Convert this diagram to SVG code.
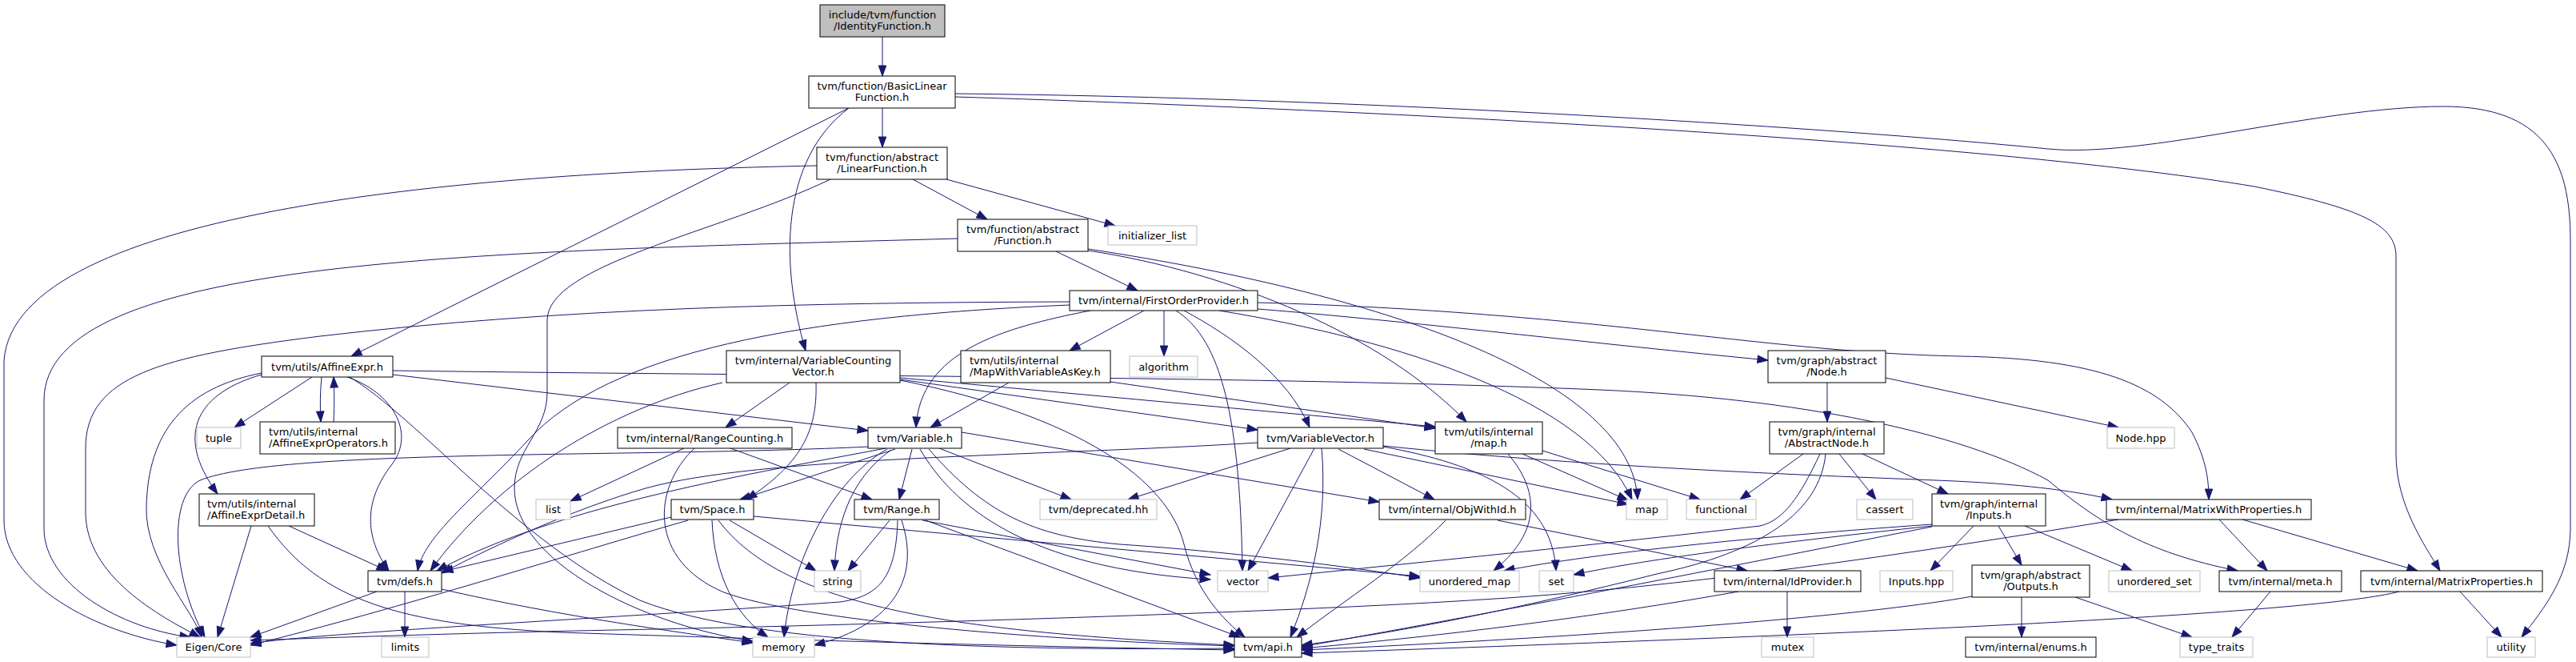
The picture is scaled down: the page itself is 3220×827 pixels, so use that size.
<svg xmlns="http://www.w3.org/2000/svg" width="3220" height="827" viewBox="0 0 3220 827">
<style>
.n rect{fill:#fff;stroke:#000;stroke-width:1}
.g rect{fill:#fff;stroke:#bfbfbf;stroke-width:1}
.r rect{fill:#bfbfbf;stroke:#000;stroke-width:1}
text{font-family:"DejaVu Sans",sans-serif;font-size:13px;fill:#000}
.c{text-anchor:middle}
#edges path{fill:none;stroke:#191970;stroke-width:1;marker-end:url(#a)}
</style>
<defs>
<marker id="a" markerWidth="14" markerHeight="10" refX="13" refY="4.7" orient="auto" markerUnits="userSpaceOnUse" overflow="visible"><path d="M0,0 L13,4.7 L0,9.4 z" fill="#191970" stroke="#191970" stroke-width="1"/></marker>
</defs>
<rect width="3220" height="827" fill="#fff"/>
<g id="edges">
<path d="M1103,46 L1103,95"/>
<path d="M1103,135 L1103,184"/>
<path d="M1061,135 L439,445"/>
<path d="M1061,135 C975,200 975,330 1007,438"/>
<path d="M1194,117 C1700,122 2300,160 2560,186 C2680,198 2900,133 3054,133 C3180,133 3213,200 3213,300 L3213,660 C3213,720 3180,760 3152,796"/>
<path d="M1194,121 C1800,140 2500,180 2818,233 C2950,260 2995,280 2995,320 L2995,567 C2995,630 3030,680 3050,713"/>
<path d="M1141,224 L1234,274"/>
<path d="M1183,224 L1394,282"/>
<path d="M1021,207 C600,215 20,260 5,450 L5,650 C5,730 120,790 221,806"/>
<path d="M1038,224 C900,290 684,330 684,400 L684,490 C684,540 643,560 643,610 C643,700 800,780 941,801"/>
<path d="M1320,314 L1422,363"/>
<path d="M1197,298 C600,315 55,320 55,500 L55,660 C55,730 150,785 238,796"/>
<path d="M1360,313 C1540,340 1730,420 1833,527"/>
<path d="M1360,311 C1750,370 2040,480 2047,624"/>
<path d="M1337,377 C1000,378 700,385 400,420 C200,445 107,470 107,560 L107,640 C107,720 200,770 250,796"/>
<path d="M1337,381 C1000,395 760,440 660,550 C590,625 530,670 522,713"/>
<path d="M1363,388 C1250,410 1150,440 1145,534"/>
<path d="M1430,388 L1337,438"/>
<path d="M1455,388 L1455,445"/>
<path d="M1470,388 C1520,420 1550,500 1553,713"/>
<path d="M1480,388 C1540,420 1610,470 1637,534"/>
<path d="M1572,386 C1750,400 2000,430 2210,450"/>
<path d="M1524,388 C1750,425 1985,500 2040,624"/>
<path d="M1572,378 C2000,390 2200,440 2450,445 C2620,448 2700,480 2740,540 C2758,575 2761,600 2761,624"/>
<path d="M491,463 C1000,470 1600,470 2000,487 C2250,498 2450,540 2560,600 C2620,650 2680,690 2797,713"/>
<path d="M491,468 L1085,538"/>
<path d="M390,471 L293,534"/>
<path d="M402,471 C400,490 400,510 401,527"/>
<path d="M417,527 C418,505 418,490 417,471"/>
<path d="M327,468 C250,490 215,540 272,617"/>
<path d="M327,466 C230,485 185,540 183,633 C181,700 240,760 252,796"/>
<path d="M434,471 C490,490 520,540 490,580 C455,625 455,670 486,713"/>
<path d="M437,471 C520,520 650,680 800,750 C950,810 1300,812 1543,810"/>
<path d="M361,657 L484,713"/>
<path d="M314,657 L272,796"/>
<path d="M335,657 C400,750 500,780 700,790 C1000,800 1300,808 1543,812"/>
<path d="M471,739 L313,796"/>
<path d="M506,739 L506,796"/>
<path d="M552,736 C700,770 850,790 941,803"/>
<path d="M987,478 L907,534"/>
<path d="M1020,478 C1022,540 1000,580 933,624"/>
<path d="M903,478 C760,510 620,600 538,713"/>
<path d="M1125,474 L1572,537"/>
<path d="M1125,472 L1794,533"/>
<path d="M1125,475 C1350,520 1460,600 1480,680 C1495,740 1530,775 1556,796"/>
<path d="M1261,478 L1163,534"/>
<path d="M1388,477 L1794,535"/>
<path d="M855,560 L713,626"/>
<path d="M868,560 C815,610 810,700 905,740 C1000,775 1300,800 1543,807"/>
<path d="M913,560 L1090,624"/>
<path d="M1086,558 C800,572 350,560 250,600 C210,620 215,720 256,796"/>
<path d="M1107,560 C950,590 700,630 546,713"/>
<path d="M1119,561 L925,624"/>
<path d="M1109,561 C1040,600 990,700 980,796"/>
<path d="M1114,562 C1060,600 1045,660 1043,713"/>
<path d="M1140,561 L1124,624"/>
<path d="M1174,560 L1339,624"/>
<path d="M1150,561 C1190,630 1280,710 1513,724"/>
<path d="M1202,540 L1724,627"/>
<path d="M1161,561 C1230,640 1290,670 1400,680 C1550,690 1700,710 1775,722"/>
<path d="M1122,650 C1120,720 1100,745 1050,752 C800,770 400,790 313,804"/>
<path d="M1127,650 C1150,720 1120,780 1018,806"/>
<path d="M1112,650 L1060,713"/>
<path d="M1153,650 L1513,718"/>
<path d="M1157,650 L1550,796"/>
<path d="M839,646 L553,714"/>
<path d="M860,650 C720,690 500,760 313,806"/>
<path d="M890,650 C893,720 920,770 960,796"/>
<path d="M898,650 C980,760 1200,790 1543,806"/>
<path d="M912,650 L1020,713"/>
<path d="M942,645 L1775,720"/>
<path d="M1613,560 L1410,624"/>
<path d="M1643,560 L1560,713"/>
<path d="M1652,560 C1660,650 1640,730 1613,796"/>
<path d="M1673,561 L1793,624"/>
<path d="M1705,561 L2035,630"/>
<path d="M1729,558 C1850,580 1940,620 1945,713"/>
<path d="M1729,557 C2000,585 2300,595 2420,600 C2500,603 2580,610 2640,624"/>
<path d="M1572,553 C1300,570 950,570 807,610 C720,635 620,680 552,716"/>
<path d="M1885,567 C1930,620 1920,670 1867,713"/>
<path d="M1903,567 L2035,625"/>
<path d="M1928,563 L2125,624"/>
<path d="M1807,650 C1760,700 1680,750 1621,796"/>
<path d="M1872,650 L2184,713"/>
<path d="M2284,478 L2284,527"/>
<path d="M2357,472 L2648,534"/>
<path d="M2254,567 L2175,624"/>
<path d="M2299,567 L2345,624"/>
<path d="M2328,567 L2435,617"/>
<path d="M2275,567 C2250,620 2230,650 2200,657 C2000,680 1800,700 1585,722"/>
<path d="M2282,567 C2275,640 2200,690 2071,717 C1900,760 1750,790 1627,806"/>
<path d="M2467,657 L2413,713"/>
<path d="M2498,657 L2527,706"/>
<path d="M2531,657 L2665,713"/>
<path d="M2415,655 C2200,670 2000,690 1880,713"/>
<path d="M2415,657 C2200,680 2050,700 1967,718"/>
<path d="M2415,658 C2200,700 1900,760 1627,808"/>
<path d="M2527,746 L2527,796"/>
<path d="M2594,746 L2740,796"/>
<path d="M2465,745 C2300,775 1900,800 1627,812"/>
<path d="M2803,649 L3022,713"/>
<path d="M2774,649 L2834,713"/>
<path d="M2648,649 C2400,690 2100,735 1837,750 C1600,765 1100,780 820,786 C600,790 400,797 313,800"/>
<path d="M2838,739 L2790,796"/>
<path d="M3075,739 L3127,796"/>
<path d="M2999,739 C2900,765 2400,790 1627,816"/>
<path d="M2234,739 L2234,796"/>
<path d="M2173,739 C2000,770 1800,795 1627,810"/>
</g>
<g id="n1" class="r"><rect x="1025" y="6" width="156" height="40"/><text class="c" x="1103" y="22.5">include/tvm/function</text><text class="c" x="1103" y="37">/IdentityFunction.h</text></g>
<g id="n2" class="n"><rect x="1011" y="95" width="183" height="40"/><text class="c" x="1102.5" y="111.5">tvm/function/BasicLinear</text><text class="c" x="1102.5" y="126">Function.h</text></g>
<g id="n3" class="n"><rect x="1021" y="184" width="163" height="40"/><text class="c" x="1102.5" y="200.5">tvm/function/abstract</text><text class="c" x="1102.5" y="215">/LinearFunction.h</text></g>
<g id="n4" class="n"><rect x="1197" y="274" width="163" height="40"/><text class="c" x="1278.5" y="290.5">tvm/function/abstract</text><text class="c" x="1278.5" y="305">/Function.h</text></g>
<g id="n5" class="g"><rect x="1385" y="282" width="111" height="24"/><text class="c" x="1440.5" y="298.5">initializer_list</text></g>
<g id="n6" class="n"><rect x="1337" y="363" width="235" height="25"/><text class="c" x="1454.5" y="380">tvm/internal/FirstOrderProvider.h</text></g>
<g id="n7" class="n"><rect x="327" y="445" width="164" height="26"/><text class="c" x="409" y="462.5">tvm/utils/AffineExpr.h</text></g>
<g id="n8" class="n"><rect x="908" y="438" width="217" height="40"/><text class="c" x="1016.5" y="454.5">tvm/internal/VariableCounting</text><text class="c" x="1016.5" y="469">Vector.h</text></g>
<g id="n9" class="n"><rect x="1201" y="438" width="187" height="40"/><text x="1212" y="454.5">tvm/utils/internal</text><text x="1212" y="469">/MapWithVariableAsKey.h</text></g>
<g id="n10" class="g"><rect x="1412" y="445" width="85" height="26"/><text class="c" x="1454.5" y="462.5">algorithm</text></g>
<g id="n11" class="n"><rect x="1794" y="527" width="134" height="40"/><text class="c" x="1861" y="543.5">tvm/utils/internal</text><text class="c" x="1861" y="558">/map.h</text></g>
<g id="n12" class="n"><rect x="2210" y="438" width="147" height="40"/><text class="c" x="2283.5" y="454.5">tvm/graph/abstract</text><text class="c" x="2283.5" y="469">/Node.h</text></g>
<g id="n13" class="g"><rect x="2634" y="534" width="84" height="26"/><text class="c" x="2676" y="551.5">Node.hpp</text></g>
<g id="n14" class="g"><rect x="246" y="534" width="55" height="26"/><text class="c" x="273.5" y="551.5">tuple</text></g>
<g id="n15" class="n"><rect x="325" y="527" width="169" height="40"/><text x="336" y="543.5">tvm/utils/internal</text><text x="336" y="558">/AffineExprOperators.h</text></g>
<g id="n16" class="n"><rect x="772" y="534" width="218" height="26"/><text class="c" x="881" y="551.5">tvm/internal/RangeCounting.h</text></g>
<g id="n17" class="n"><rect x="1085" y="534" width="117" height="26"/><text class="c" x="1143.5" y="551.5">tvm/Variable.h</text></g>
<g id="n18" class="n"><rect x="1572" y="534" width="157" height="26"/><text class="c" x="1650.5" y="551.5">tvm/VariableVector.h</text></g>
<g id="n19" class="n"><rect x="2212" y="527" width="143" height="40"/><text class="c" x="2283.5" y="543.5">tvm/graph/internal</text><text class="c" x="2283.5" y="558">/AbstractNode.h</text></g>
<g id="n20" class="n"><rect x="249" y="617" width="144" height="40"/><text x="259" y="633.5">tvm/utils/internal</text><text x="259" y="648">/AffineExprDetail.h</text></g>
<g id="n21" class="g"><rect x="670" y="624" width="43" height="25"/><text class="c" x="691.5" y="641">list</text></g>
<g id="n22" class="n"><rect x="839" y="624" width="103" height="25"/><text class="c" x="890.5" y="641">tvm/Space.h</text></g>
<g id="n23" class="n"><rect x="1068" y="624" width="106" height="25"/><text class="c" x="1121" y="641">tvm/Range.h</text></g>
<g id="n24" class="g"><rect x="1300" y="624" width="146" height="25"/><text class="c" x="1373" y="641">tvm/deprecated.hh</text></g>
<g id="n25" class="n"><rect x="1724" y="624" width="183" height="25"/><text class="c" x="1815.5" y="641">tvm/internal/ObjWithId.h</text></g>
<g id="n26" class="g"><rect x="2033" y="624" width="51" height="25"/><text class="c" x="2058.5" y="641">map</text></g>
<g id="n27" class="g"><rect x="2108" y="624" width="87" height="25"/><text class="c" x="2151.5" y="641">functional</text></g>
<g id="n28" class="g"><rect x="2321" y="624" width="70" height="25"/><text class="c" x="2356" y="641">cassert</text></g>
<g id="n29" class="n"><rect x="2415" y="617" width="142" height="40"/><text class="c" x="2486" y="633.5">tvm/graph/internal</text><text class="c" x="2486" y="648">/Inputs.h</text></g>
<g id="n30" class="n"><rect x="2633" y="624" width="256" height="25"/><text class="c" x="2761" y="641">tvm/internal/MatrixWithProperties.h</text></g>
<g id="n31" class="n"><rect x="460" y="713" width="92" height="26"/><text class="c" x="506" y="730.5">tvm/defs.h</text></g>
<g id="n32" class="g"><rect x="1018" y="713" width="58" height="26"/><text class="c" x="1047" y="730.5">string</text></g>
<g id="n33" class="g"><rect x="1522" y="713" width="63" height="26"/><text class="c" x="1553.5" y="730.5">vector</text></g>
<g id="n34" class="g"><rect x="1775" y="713" width="124" height="26"/><text class="c" x="1837" y="730.5">unordered_map</text></g>
<g id="n35" class="g"><rect x="1924" y="713" width="43" height="26"/><text class="c" x="1945.5" y="730.5">set</text></g>
<g id="n36" class="n"><rect x="2143" y="713" width="183" height="26"/><text class="c" x="2234.5" y="730.5">tvm/internal/IdProvider.h</text></g>
<g id="n37" class="g"><rect x="2350" y="713" width="91" height="26"/><text class="c" x="2395.5" y="730.5">Inputs.hpp</text></g>
<g id="n38" class="n"><rect x="2465" y="706" width="147" height="40"/><text class="c" x="2538.5" y="722.5">tvm/graph/abstract</text><text class="c" x="2538.5" y="737">/Outputs.h</text></g>
<g id="n39" class="g"><rect x="2636" y="713" width="114" height="26"/><text class="c" x="2693" y="730.5">unordered_set</text></g>
<g id="n40" class="n"><rect x="2774" y="713" width="153" height="26"/><text class="c" x="2850.5" y="730.5">tvm/internal/meta.h</text></g>
<g id="n41" class="n"><rect x="2951" y="713" width="227" height="26"/><text class="c" x="3064.5" y="730.5">tvm/internal/MatrixProperties.h</text></g>
<g id="n42" class="g"><rect x="221" y="796" width="92" height="25"/><text class="c" x="267" y="813">Eigen/Core</text></g>
<g id="n43" class="g"><rect x="477" y="796" width="59" height="25"/><text class="c" x="506.5" y="813">limits</text></g>
<g id="n44" class="g"><rect x="941" y="796" width="77" height="25"/><text class="c" x="979.5" y="813">memory</text></g>
<g id="n45" class="n"><rect x="1543" y="796" width="84" height="25"/><text class="c" x="1585" y="813">tvm/api.h</text></g>
<g id="n46" class="g"><rect x="2202" y="796" width="65" height="25"/><text class="c" x="2234.5" y="813">mutex</text></g>
<g id="n47" class="n"><rect x="2457" y="796" width="163" height="25"/><text class="c" x="2538.5" y="813">tvm/internal/enums.h</text></g>
<g id="n48" class="g"><rect x="2725" y="796" width="91" height="25"/><text class="c" x="2770.5" y="813">type_traits</text></g>
<g id="n49" class="g"><rect x="3109" y="796" width="60" height="25"/><text class="c" x="3139" y="813">utility</text></g>
</svg>
